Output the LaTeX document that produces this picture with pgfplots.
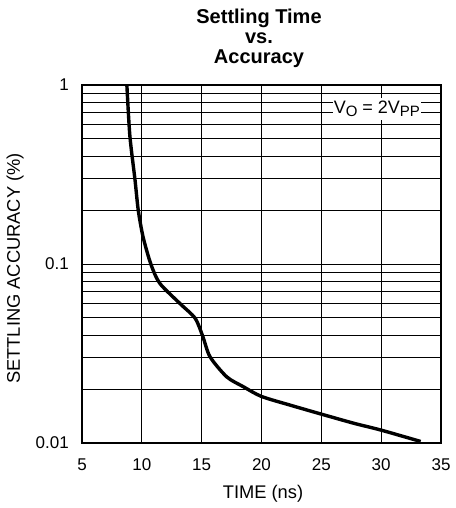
\documentclass[border=0pt]{standalone}
\usepackage{pgfplots}
\pgfplotsset{compat=1.18}
\usepackage{fontspec}
\setmainfont{Liberation Sans}
\begin{document}
\begin{tikzpicture}
\begin{axis}[
  scale only axis, width=359pt, height=358pt,
  at={(0pt,0pt)}, anchor=south west,
  xmin=5, xmax=35, ymin=0.01, ymax=1, ymode=log,
  xtick={5,10,15,20,25,30,35}, xticklabels={5,10,15,20,25,30,35},
  ytick={0.01,0.1,1}, yticklabels={0.01,0.1,1},
  minor ytick={0.02,0.03,0.04,0.05,0.06,0.07,0.08,0.09,0.2,0.3,0.4,0.5,0.6,0.7,0.8,0.9},
  grid=both,
  major grid style={black, line width=1.0pt},
  minor grid style={black, line width=1.0pt},
  major tick length=0pt, minor tick length=0pt,
  axis line style={line width=1.7pt},
  /pgf/number format/assume math mode=true,
  tick label style={font=\fontsize{17}{17}\selectfont},
  xticklabel style={anchor=base, inner sep=0pt, yshift=-27pt},
  yticklabel style={anchor=east, inner sep=0pt, xshift=-13pt},
]
\addplot[black, line width=3.4pt, smooth, tension=0.45] coordinates {
(8.75,1.0) (9.0,0.52) (9.43,0.295) (9.7,0.2) (10.1,0.142) (10.75,0.1)
(11.5,0.078) (13.2,0.060) (14.45,0.0498) (15.1,0.0393) (15.7,0.0303)
(17.1,0.0234) (18.5,0.0206) (20.0,0.0182) (22.5,0.0162) (25.0,0.0145)
(27.7,0.0129) (30.0,0.0118) (33.3,0.0102)
};
\node[fill=white, inner xsep=1pt, inner ysep=3pt, font=\fontsize{18}{18}\selectfont]
  at (axis cs:29.64,0.734)
  {V\raisebox{-3pt}{\fontsize{15}{15}\selectfont O} = 2V\raisebox{-3pt}{\fontsize{15}{15}\selectfont PP}};
\end{axis}
\node[anchor=south, align=center, inner sep=0pt, font=\fontsize{20}{20.3}\selectfont\bfseries]
  at (177pt,375pt) {Settling Time\\vs.\\Accuracy};
\node[anchor=base, inner sep=0pt, font=\fontsize{18.3}{18.3}\selectfont]
  at (181pt,-55pt) {TIME (ns)};
\node[rotate=90, anchor=base, inner sep=0pt, font=\fontsize{18.3}{18.3}\selectfont]
  at (-62pt,174.5pt) {SETTLING ACCURACY (\%)};
\pgfresetboundingbox
\path[use as bounding box] (-82pt,-65pt) rectangle (373pt,443pt);
\end{tikzpicture}
\end{document}
